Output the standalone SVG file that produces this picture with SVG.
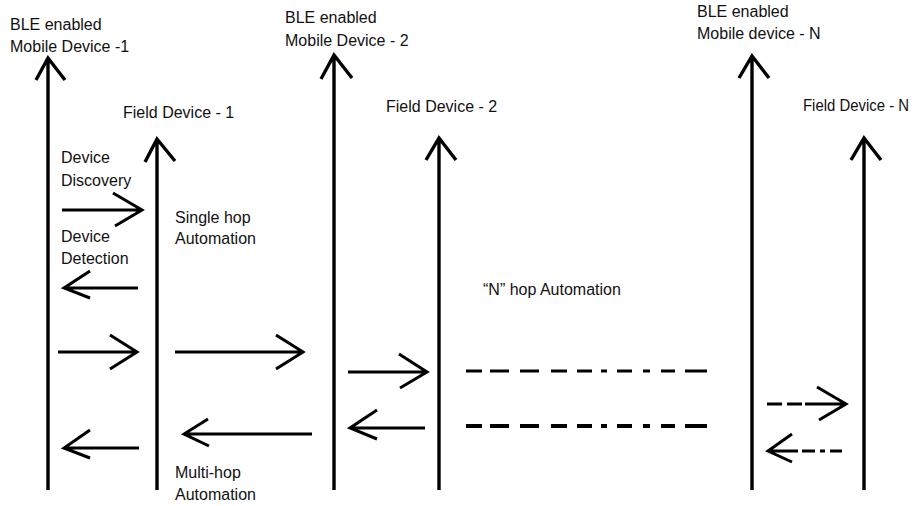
<svg xmlns="http://www.w3.org/2000/svg" width="915" height="506" viewBox="0 0 915 506">
  <style>
    .lbl { font-family: "Liberation Sans", Arial, sans-serif; font-size: 16px; fill: #111; }
    .life { stroke: #000; stroke-width: 3.4; fill: none; }
    .msg { stroke: #000; stroke-width: 3; fill: none; stroke-linejoin: miter; }
    .msg2 { stroke: #000; stroke-width: 3.8; fill: none; }
  </style>
  <rect width="915" height="506" fill="#fff"/>

  <!-- Lifelines: mobile devices and field devices -->
  <g id="mobile-1">
    <path class="life" d="M48 490V58M36 80L48 58L65 80"/>
    <text class="lbl" x="10" y="30">BLE enabled</text>
    <text class="lbl" x="10" y="52">Mobile Device -1</text>
  </g>
  <g id="field-1">
    <path class="life" d="M157 490V139M145 162L157 139L175 161"/>
    <text class="lbl" x="123" y="118">Field Device - 1</text>
  </g>
  <g id="mobile-2">
    <path class="life" d="M334 490V55M321 79L334 55L352 78"/>
    <text class="lbl" x="285" y="23">BLE enabled</text>
    <text class="lbl" x="285" y="46">Mobile Device - 2</text>
  </g>
  <g id="field-2">
    <path class="life" d="M439 490V138M426 160L439 138L456 160"/>
    <text class="lbl" x="386" y="112">Field Device - 2</text>
  </g>
  <g id="mobile-n">
    <path class="life" d="M752 490V56M739 78L752 56L769 78"/>
    <text class="lbl" x="697" y="17">BLE enabled</text>
    <text class="lbl" x="697" y="39">Mobile device - N</text>
  </g>
  <g id="field-n">
    <path class="life" d="M864 490V138M851 160L864 138L881 160"/>
    <text class="lbl" x="803" y="111" textLength="106" lengthAdjust="spacingAndGlyphs">Field Device - N</text>
  </g>

  <!-- Annotations -->
  <g id="notes">
    <text class="lbl" x="61" y="163">Device</text>
    <text class="lbl" x="61" y="186">Discovery</text>
    <text class="lbl" x="61" y="242">Device</text>
    <text class="lbl" x="61" y="264">Detection</text>
    <text class="lbl" x="175" y="223">Single hop</text>
    <text class="lbl" x="175" y="244">Automation</text>
    <text class="lbl" x="175" y="478">Multi-hop</text>
    <text class="lbl" x="175" y="500">Automation</text>
    <text class="lbl" x="483" y="295">“N” hop Automation</text>
  </g>

  <!-- Messages -->
  <g id="connectors">
    <!-- discovery / detection -->
    <path class="msg" d="M62 210H142M113 193L142 210L115 226"/>
    <path class="msg" d="M138 288H64M90 271L64 288L90 298"/>
    <!-- forward chain -->
    <path class="msg" d="M58 352H137M110 335L137 352L110 369"/>
    <path class="msg" d="M175 352H303M276 335L303 352L276 369"/>
    <path class="msg" d="M348 372H427M399 354L427 372L400 388"/>
    <path class="msg" d="M466 371H482M490 371H509M520 371H539M551 371H567M577 371H592M601 371H607M617 371H632M643 371H650M661 371H675M685 371H707"/>
    <path class="msg" d="M767 404H782M787 404H802M805 404H846M817 387L846 404L819 420"/>
    <!-- return chain -->
    <path class="msg" d="M842 451H830M825 451H820M815 451H802M798 451H768M792 434L768 451L792 462"/>
    <path class="msg2" d="M466 426H482M490 426H509M520 426H539M551 426H567M577 426H592M601 426H607M617 426H632M643 426H650M661 426H675M685 426H707"/>
    <path class="msg" d="M425 428H350M377 410L350 428L377 439"/>
    <path class="msg" d="M312 434H184M208 419L184 434L209 446"/>
    <path class="msg" d="M139 448H64M90 430L64 448L90 458"/>
  </g>
</svg>
